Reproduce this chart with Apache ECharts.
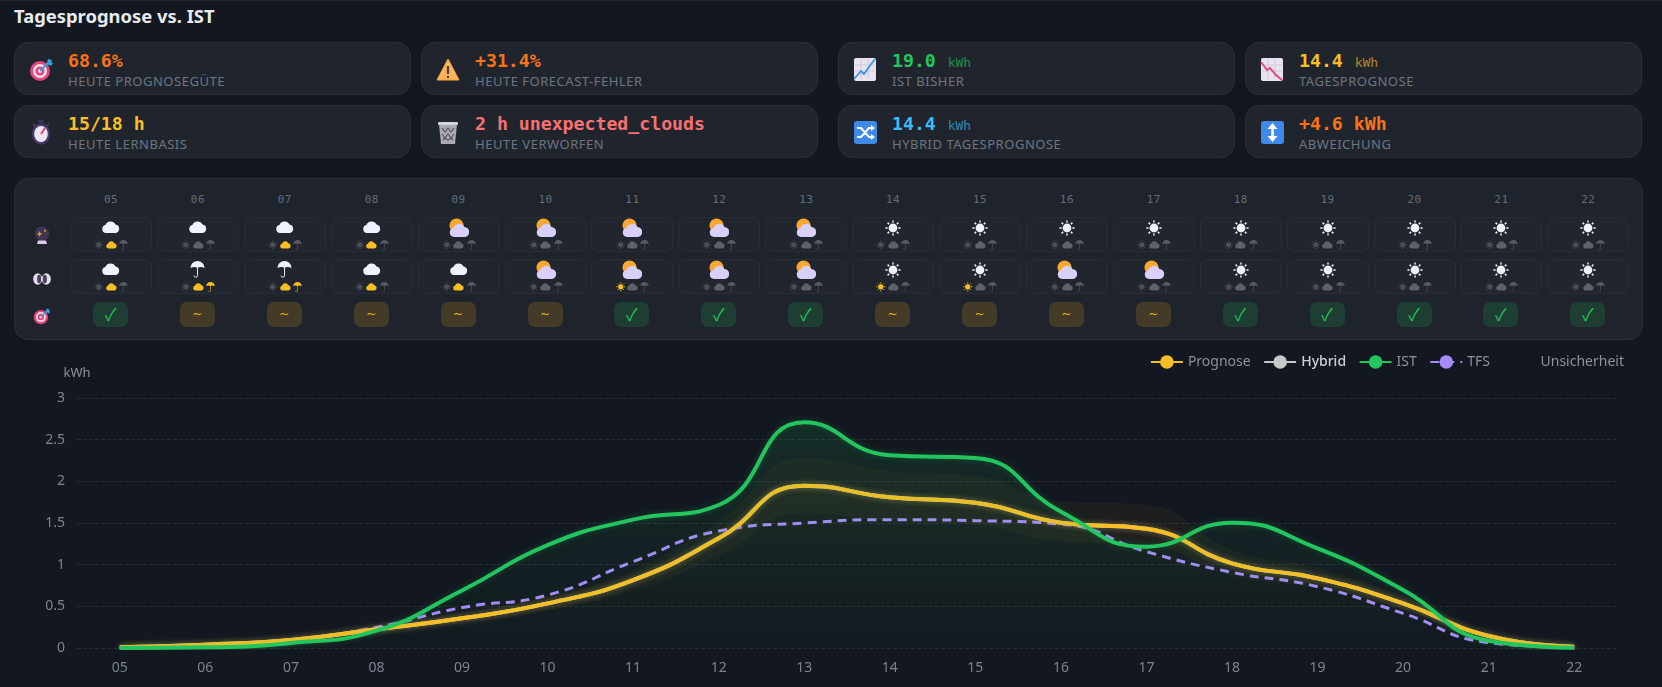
<!DOCTYPE html>
<html><head><meta charset="utf-8">
<script src="https://cdn.jsdelivr.net/npm/echarts@6/dist/echarts.min.js"></script>
<style>
html,body{margin:0;padding:0;width:1662px;height:687px;overflow:hidden;background:#131820;font-family:"Noto Sans",sans-serif}
#top{position:absolute;left:0;top:0;width:1662px;height:1px;background:#20252d}
#title{position:absolute;left:14px;top:3px;font:700 18.4px/26px "Noto Sans",sans-serif;color:#e8eaee}
.card{position:absolute;width:395px;height:51px;background:#20252d;border:1px solid #2a2f38;border-radius:14px}
.card svg{position:absolute;left:14px;top:14px;width:25px;height:25px}
.val{position:absolute;left:53px;top:6px;font:600 18.2px/24px "DejaVu Sans Mono",monospace;white-space:pre}
.val small{font:500 13px/24px "DejaVu Sans Mono",monospace;opacity:.65;margin-left:4px}
.lab{position:absolute;left:53px;top:30px;font:400 13px/17px "Noto Sans",sans-serif;letter-spacing:.52px;color:#6f7580;white-space:pre}
#panel{position:absolute;left:14px;top:178px;width:1627px;height:160px;background:#1f242c;border:1px solid #292e37;border-radius:14px}
.hr{position:absolute;width:82px;text-align:center;top:14px;font:400 11px/14px "DejaVu Sans Mono",monospace;letter-spacing:.4px;color:#666c77}
.cell{position:absolute;width:80px;height:33px;background:#21252d;border:1px solid #282d35;border-radius:7px}
.cell svg{position:absolute;display:block}
.badge{position:absolute;width:35px;height:25px;border-radius:7px;text-align:center}
.ok{background:#1f3e33;color:#22c55e;font:400 17px/24px "Noto Sans CJK SC","DejaVu Sans",sans-serif}
.mid{background:#433b27;color:#eab308;font:400 12px/24px "DejaVu Sans",sans-serif}
.ri{position:absolute;left:18px;width:18px;height:18px}
.ri svg{width:18px;height:18px;display:block}
#chart{position:absolute;left:0;top:340px;width:1662px;height:347px}
</style></head><body>
<div id="top"></div><div id="title">Tagesprognose vs. IST</div>
<div id="cards"></div><div id="panel"></div><div id="chart"></div>
<script>
const hours=['05','06','07','08','09','10','11','12','13','14','15','16','17','18','19','20','21','22'];
const prognose=[0.008,0.04,0.096,0.224,0.356,0.535,0.815,1.316,1.948,1.808,1.744,1.504,1.432,1.016,0.836,0.536,0.144,0.016];
const hybrid=[0.008,0.04,0.096,0.224,0.356,0.535,0.815,1.316,1.948,1.808,1.744,1.504,1.432,1.016,0.836,0.536,0.144,0.016];
const ist=[0,0.008,0.06,0.208,0.69,1.235,1.54,1.716,2.708,2.312,2.28,1.636,1.216,1.504,1.196,0.696,0.088,0.004];
const tfs=[0,0.02,0.09,0.248,0.485,0.635,1.036,1.404,1.5,1.54,1.528,1.488,1.156,0.908,0.736,0.416,0.064,0.005];
const bandLow=[0.008,0.03,0.08,0.19,0.3,0.45,0.69,1.1,1.62,1.52,1.48,1.28,1.24,0.87,0.72,0.46,0.12,0.012];
const bandHigh=[0.01,0.05,0.115,0.26,0.42,0.62,0.94,1.52,2.28,2.12,2.06,1.76,1.72,1.18,0.96,0.62,0.17,0.02];
const forecastIcons=['c','c','c','c','p','p','p','p','p','s','s','s','s','s','s','s','s','s'];
const actualIcons=['c','r','r','c','c','p','p','p','p','s','s','p','p','s','s','s','s','s'];
const forecastFlags=['c','','c','c','','','','','','','','','','','','','',''];
const actualFlags=['c','cr','cr','c','c','','s','','','s','s','','','','','','',''];
const verdicts=['y','~','~','~','~','~','y','y','y','~','~','~','~','y','y','y','y','y'];
const cards=[
 {i:'target',v:'68.6%',c:'#f97316',l:'HEUTE PROGNOSEGÜTE',x:14,y:42},
 {i:'warn',v:'+31.4%',c:'#f97316',l:'HEUTE FORECAST-FEHLER',x:421,y:42},
 {i:'up',v:'19.0',u:'kWh',c:'#22c55e',l:'IST BISHER',x:838,y:42},
 {i:'down',v:'14.4',u:'kWh',c:'#fbbf24',l:'TAGESPROGNOSE',x:1245,y:42},
 {i:'watch',v:'15/18 h',c:'#fbbf24',l:'HEUTE LERNBASIS',x:14,y:105},
 {i:'bin',v:'2 h unexpected_clouds',c:'#f87171',l:'HEUTE VERWORFEN',x:421,y:105},
 {i:'shuffle',v:'14.4',u:'kWh',c:'#38bdf8',l:'HYBRID TAGESPROGNOSE',x:838,y:105},
 {i:'updown',v:'+4.6 kWh',c:'#f97316',l:'ABWEICHUNG',x:1245,y:105}];
const grid='<path d="M2 8h20M2 14h20M8 2v20M15 2v20" stroke="#c9bfd6" stroke-width=".7"/>';
const icons={
 target:'<circle cx="11" cy="14" r="10" fill="#e0457b"/><circle cx="11" cy="14" r="7" fill="#f6dfe6"/><circle cx="11" cy="14" r="4.5" fill="#e0457b"/><circle cx="11" cy="14" r="2" fill="#f6dfe6"/><path d="M11 14L21 4" stroke="#35a0e0" stroke-width="2"/><path d="M18 7l1-5 4 1-1 2 2 1-2 3z" fill="#35a0e0"/>',
 warn:'<path d="M12 2L23 23H1z" fill="#fdb35c" stroke="#f5a742" stroke-linejoin="round"/><path d="M12 9v8" stroke="#4a3f3a" stroke-width="2.2"/><circle cx="12" cy="20" r="1.2" fill="#4a3f3a"/>',
 up:'<rect x="1" y="1" width="22" height="23" rx="2" fill="#e9e2f0"/>'+grid+'<path d="M1 22L8 14l3 3 5-7 6-8" fill="none" stroke="#3b97d8" stroke-width="1.8"/>',
 down:'<rect x="1" y="1" width="22" height="23" rx="2" fill="#e9e2f0"/>'+grid+'<path d="M1 5l6 8 3-2 6 7 6 5" fill="none" stroke="#e0457b" stroke-width="1.8"/>',
 watch:'<rect x="9" y="0" width="6" height="3" fill="#3d3158"/><ellipse cx="12" cy="14" rx="9" ry="10.5" fill="#473a6e"/><ellipse cx="12" cy="14" rx="6.8" ry="8" fill="#eee6f2"/><path d="M12 14l4-6" stroke="#e0457b" stroke-width="2"/><path d="M4 4l3 2M20 4l-3 2" stroke="#473a6e" stroke-width="2"/>',
 bin:'<path d="M3 4h18l-2 20H5z" fill="#aaa8b2"/><path d="M6 8l3 4 3-4 3 4 3-4M6 14l3 4 3-4 3 4 3-4M7 20l2-2 3 2 3-2 2 2" stroke="#55535c" stroke-width="1.2" fill="none"/><rect x="2" y="2" width="20" height="3" rx="1" fill="#d4d2da"/>',
 shuffle:'<rect x="1" y="1" width="23" height="23" rx="3" fill="#3f8ae8"/><path d="M4 8h4l8 9h3M4 17h4l8-9h3" stroke="#fff" stroke-width="2" fill="none"/><path d="M18 5l4 3-4 3zM18 14l4 3-4 3z" fill="#fff"/>',
 updown:'<rect x="1" y="1" width="23" height="23" rx="3" fill="#3f8ae8"/><path d="M12.5 7v11" stroke="#fff" stroke-width="2.6"/><path d="M12.5 3l5 6h-10zM12.5 22l5-6h-10z" fill="#fff"/>',
 ball:'<circle cx="12.5" cy="10.5" r="10" fill="#3f3550"/><path d="M9 7l1.2 2.6L13 11l-2.8 1.2L9 15l-1.2-2.8L5 11l2.8-1.4z" fill="#e5a13a"/><circle cx="16.5" cy="6.5" r="1.4" fill="#e5a13a"/><path d="M7 20h11l1.5 5H5.5z" fill="#dccbf0"/>',
 eyes:'<ellipse cx="6.5" cy="12.5" rx="6.3" ry="8" fill="#e6dcef"/><ellipse cx="18.5" cy="12.5" rx="6.3" ry="8" fill="#e6dcef"/><ellipse cx="8.5" cy="12.5" rx="2.8" ry="6" fill="#4a4158"/><ellipse cx="16.5" cy="12.5" rx="2.8" ry="6" fill="#4a4158"/>'};
const svg=n=>'<svg viewBox="0 0 25 25">'+icons[n]+'</svg>';
const rays=[[8,0.4,8,2.6],[8,13.4,8,15.6],[0.4,8,2.6,8],[13.4,8,15.6,8],[2.6,2.6,4.2,4.2],[11.8,11.8,13.4,13.4],[2.6,13.4,4.2,11.8],[11.8,4.2,13.4,2.6]].map(r=>`M${r[0]} ${r[1]}L${r[2]} ${r[3]}`).join('');
const shapes={
 c:{vb:'0 0 18 12',w:18,h:12,d:c=>`<path fill="${c}" d="M4 12a4 4 0 0 1-.6-7.9A5.5 5.5 0 0 1 13.5 3.6 4.3 4.3 0 0 1 14 12z"/>`},
 s:{vb:'0 0 16 16',w:16,h:16,d:c=>`<circle cx="8" cy="8" r="4.4" fill="${c}"/><path d="${rays}" stroke="${c}" stroke-width="1.5"/>`},
 r:{vb:'0 0 16 18',w:15,h:17,d:c=>`<path fill="${c}" d="M.5 7.5A7.5 7.5 0 0 1 15.5 7.5Q12 5.5 8 7 4 5.5.5 7.5z"/><path fill="none" stroke="${c}" stroke-width="1" d="M8 1V15.5a1.8 1.8 0 0 1-3.6 0"/>`},
 p:{vb:'0 0 20 19',w:20,h:19,d:()=>`<circle cx="7.5" cy="7.5" r="7" fill="#f6a832"/><path fill="#d8d0f8" d="M5 19a4.5 4.5 0 0 1-.6-8.9A6 6 0 0 1 15.4 9 5 5 0 0 1 15 19z"/>`}};
function place(k,cx,cy,scale,color){
 const s=shapes[k],w=s.w*scale,h=s.h*scale;
 return `<svg viewBox="${s.vb}" style="left:${cx-w/2}px;top:${cy-h/2}px;width:${w}px;height:${h}px">${s.d(color)}</svg>`;
}
const idle={s:'#4a4f58',c:'#5c616a',r:'#555a63'};
function cell(icon,flags,h,top){
 const x=55+86.9*h;
 const big=place(icon,40,icon==='c'?8.5:9.5,1,'#eef2ff');
 const ind=['s','c','r'].map((k,i)=>place(k,28+i*12.3,27,k==='c'?0.62:0.6,flags.includes(k)?'#fbbf24':idle[k])).join('');
 return `<div class="cell" style="left:${x}px;top:${top}px">${big}${ind}</div>`;
}
let html='';
html+=`<div class="ri" style="top:47px">${svg('ball')}</div><div class="ri" style="top:91px">${svg('eyes')}</div><div class="ri" style="top:128px">${svg('target')}</div>`;
hours.forEach((h,i)=>{
 html+=`<div class="hr" style="left:${55+86.9*i}px">${h}</div>`;
 html+=cell(forecastIcons[i],forecastFlags[i],i,38);
 html+=cell(actualIcons[i],actualFlags[i],i,80);
 const ok=verdicts[i]==='y';
 html+=`<div class="badge ${ok?'ok':'mid'}" style="left:${78+86.9*i}px;top:123px">${ok?'✓':'~'}</div>`;
});
document.getElementById('cards').innerHTML=cards.map(c=>`<div class="card" style="left:${c.x}px;top:${c.y}px">${svg(c.i)}<div class="val" style="color:${c.c}">${c.v}${c.u?`<small> ${c.u}</small>`:''}</div><div class="lab">${c.l}</div></div>`).join('');
document.getElementById('panel').innerHTML=html;
const bandDelta=bandHigh.map((v,i)=>v-bandLow[i]);
const chart=echarts.init(document.getElementById('chart'),null,{renderer:'canvas'});
const line=(name,data,color,extra)=>Object.assign({name,type:'line',data,smooth:true,showSymbol:false,symbol:'circle',symbolSize:14,
 itemStyle:{color},lineStyle:{color,width:4,shadowColor:color+'44',shadowBlur:6},emphasis:{disabled:true}},extra||{});
const fade=(a,b,c)=>new echarts.graphic.LinearGradient(0,0,0,1,[{offset:0,color:`rgba(${c},${a})`},{offset:1,color:`rgba(${c},${b})`}]);
chart.setOption({animation:false,backgroundColor:'transparent',
 textStyle:{fontFamily:'"Noto Sans",sans-serif'},
 grid:{left:77,right:45,top:58,bottom:39},
 legend:{right:33,top:10,itemWidth:32,itemHeight:17,itemGap:12.5,textStyle:{color:'#8b919c',fontSize:14},
  data:['Prognose',{name:'Hybrid',textStyle:{color:'#cfd1d6',fontWeight:500}},'IST','TFS','Unsicherheit']},
 xAxis:{type:'category',data:hours,boundaryGap:true,axisLine:{show:false},axisTick:{show:false},axisLabel:{color:'#7d838e',fontSize:14,margin:13}},
 yAxis:{type:'value',min:0,max:3,interval:0.5,name:'kWh',nameGap:18,nameTextStyle:{color:'#8b919c',fontSize:13,align:'center'},
  axisLabel:{color:'#7d838e',fontSize:14,margin:12},splitLine:{lineStyle:{color:'#262b33',type:'dashed',width:1}}},
 series:[
  {name:'bandBase',type:'line',data:bandLow,stack:'b',smooth:true,showSymbol:false,lineStyle:{opacity:0},silent:true},
  {name:'Unsicherheit',type:'line',data:bandDelta,stack:'b',smooth:true,showSymbol:false,symbol:'none',lineStyle:{opacity:0},itemStyle:{color:'transparent'},
   areaStyle:{color:'rgba(251,191,36,0.055)',shadowColor:'rgba(251,191,36,0.08)',shadowBlur:12},silent:true},
  line('Hybrid',hybrid,'#c8c8c8'),
  line('IST',ist,'#22c55e',{areaStyle:{color:fade(0.17,0.015,'34,197,94')},z:4}),
  line('TFS',tfs,'#a78bfa',{z:3,lineStyle:{color:'#a78bfa',width:3,type:[9,6]}}),
  line('Prognose',prognose,'#fbbf24',{z:3,areaStyle:{color:fade(0.04,0.0,'251,191,36')}})
 ]});
</script></body></html>
